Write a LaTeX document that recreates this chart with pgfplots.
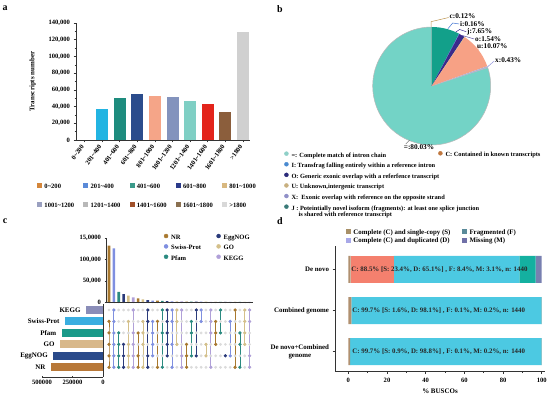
\documentclass[border=0pt]{standalone}
\usepackage{fontspec}
\setmainfont{Liberation Serif}
\usepackage{pgfplots}
\pgfplotsset{compat=1.18}
\newcommand\fs{\fontsize{6.6}{7.6}\selectfont\bfseries}
\newcommand\fsl{\fontsize{7}{8}\selectfont\bfseries}
\newcommand\fsb{\fontsize{6.4}{7.4}\selectfont\bfseries}
\newcommand\fsq{\fontsize{7.3}{8.3}\selectfont\bfseries}
\newcommand\fsd{\fontsize{6.9}{7.9}\selectfont\bfseries}
\newcommand\fsp{\fontsize{10}{11}\selectfont\bfseries}
% panel a
\definecolor{a0}{HTML}{E0904A}\definecolor{a1}{HTML}{22B4E2}\definecolor{a2}{HTML}{1E8C7E}
\definecolor{a3}{HTML}{2B4C8C}\definecolor{a4}{HTML}{F5A588}\definecolor{a5}{HTML}{8393BD}
\definecolor{a6}{HTML}{7FCFC4}\definecolor{a7}{HTML}{E3241B}\definecolor{a8}{HTML}{8B5E3C}
\definecolor{a9}{HTML}{D0D0D0}
\definecolor{l0}{HTML}{D4863A}\definecolor{l1}{HTML}{5A8AD8}\definecolor{l2}{HTML}{3A9A8A}
\definecolor{l3}{HTML}{2A3A8A}\definecolor{l4}{HTML}{D8B880}\definecolor{l5}{HTML}{9AA0C0}
\definecolor{l6}{HTML}{B8B8B8}\definecolor{l7}{HTML}{A0502A}\definecolor{l8}{HTML}{8A7050}
\definecolor{l9}{HTML}{D8D8D8}
% panel b
\definecolor{pEq}{HTML}{73D3C6}\definecolor{pJ}{HTML}{12A08A}\definecolor{pI}{HTML}{3A6FD0}
\definecolor{pO}{HTML}{3B2A8C}\definecolor{pC}{HTML}{B8C87A}\definecolor{pU}{HTML}{F7A185}
\definecolor{pX}{HTML}{B0B4D0}
\definecolor{bEq}{HTML}{8FD0C8}\definecolor{bC}{HTML}{C07840}\definecolor{bI}{HTML}{4A8AD0}
\definecolor{bO}{HTML}{2A2A7A}\definecolor{bU}{HTML}{C8B080}\definecolor{bX}{HTML}{9090C8}
\definecolor{bJ}{HTML}{3A7A78}
% panel c
\definecolor{cNR}{HTML}{A8782E}\definecolor{cEgg}{HTML}{2A3A7A}\definecolor{cSw}{HTML}{7F8FE0}
\definecolor{cGO}{HTML}{D4C08A}\definecolor{cPf}{HTML}{2A8A80}\definecolor{cKE}{HTML}{B0A0D8}
\definecolor{hKE}{HTML}{8A8DB8}\definecolor{hSw}{HTML}{3AAEE0}\definecolor{hPf}{HTML}{1A9A8A}
\definecolor{hGO}{HTML}{D8B88A}\definecolor{hEgg}{HTML}{2A4A8A}\definecolor{hNR}{HTML}{B87838}
% panel d
\definecolor{dT}{HTML}{B09070}\definecolor{dS}{HTML}{F4806E}\definecolor{dD}{HTML}{4CC9E2}
\definecolor{dF}{HTML}{14B0A0}\definecolor{dM}{HTML}{7880B0}
\definecolor{eS}{HTML}{A89068}\definecolor{eD}{HTML}{A8A8E8}\definecolor{eF}{HTML}{5A8A9A}
\definecolor{eM}{HTML}{7070A8}
\pgfplotsset{
  legmark/.style={legend image code/.code={\draw[mark repeat=1,##1] plot coordinates {(2bp,1.8bp)};}},
  base/.style={scale only axis,
    axis line style={line width=0.6bp, black!80},
    tick style={line width=0.5bp, black!80},
    tick label style={font=\fs}, label style={font=\fsl},
    /pgf/number format/fixed,
    /pgf/number format/assume math mode=true,
    legend style={font=\fs, draw=none, fill=none, inner sep=0pt, outer sep=0pt,
      nodes={inner sep=0.6bp, text height=4.7bp, text depth=1.4bp},
      /tikz/every odd column/.append style={column sep=2.5bp}},
    legend cell align=left,
    legmark},
}
\begin{document}
\begin{tikzpicture}
\path[use as bounding box] (0,0) rectangle (550bp,394bp);
% ---------- pie data ----------
\def\vJ{7.65}\def\vI{0.16}\def\vO{1.54}\def\vC{0.12}\def\vU{10.07}\def\vX{0.43}\def\vEq{80.03}
\pgfmathsetmacro\aJ{90-3.6*\vJ}
\pgfmathsetmacro\aI{\aJ-3.6*\vI}
\pgfmathsetmacro\aO{\aI-3.6*\vO}
\pgfmathsetmacro\aC{\aO-3.6*\vC}
\pgfmathsetmacro\aU{\aC-3.6*\vU}
\pgfmathsetmacro\aX{\aU-3.6*\vX}
\pgfmathsetmacro\aEq{\aX-3.6*\vEq}
% panel labels
\node[font=\fsp] at (5bp,385.7bp) {a};
\node[font=\fsp] at (280bp,384.7bp) {b};
\node[font=\fsp] at (5bp,172.3bp) {c};
\node[font=\fsp] at (280bp,173.3bp) {d};
% ================= panel a =================
\begin{axis}[base, at={(76bp,254bp)}, anchor=south west, width=174bp, height=117bp,
  axis lines*=left, xmin=-0.48, xmax=9.4, ymin=0, ymax=140000,
  ytick={0,20000,40000,60000,80000,100000,120000,140000}, minor y tick num=1,
  /pgf/number format/1000 sep={,}, scaled y ticks=false,
  xtick={0,1,2,3,4,5,6,7,8,9},
  xticklabels={0\textasciitilde200,201\textasciitilde400,401\textasciitilde600,601\textasciitilde800,801\textasciitilde1000,1001\textasciitilde1200,1201\textasciitilde1400,1401\textasciitilde1600,1601\textasciitilde1800,>1800},
  xticklabel style={rotate=55, anchor=east},
  tick align=outside, major tick length=2.5bp, minor tick length=1.5bp,
  ylabel={Transcripts number}, ylabel style={at={(axis description cs:-0.21,0.5)}},
  legend columns=5,
  legend style={at={(-0.222,-0.365)}, anchor=north west, row sep=11.7bp,
    /tikz/every even column/.append style={column sep=8.8bp}}]
\addplot[ybar, bar width=12bp, fill=a0, draw=none, forget plot] coordinates {(0,500)};
\addplot[ybar, bar width=12bp, fill=a1, draw=none, forget plot] coordinates {(1,37100)};
\addplot[ybar, bar width=12bp, fill=a2, draw=none, forget plot] coordinates {(2,50600)};
\addplot[ybar, bar width=12bp, fill=a3, draw=none, forget plot] coordinates {(3,54700)};
\addplot[ybar, bar width=12bp, fill=a4, draw=none, forget plot] coordinates {(4,53000)};
\addplot[ybar, bar width=12bp, fill=a5, draw=none, forget plot] coordinates {(5,51800)};
\addplot[ybar, bar width=12bp, fill=a6, draw=none, forget plot] coordinates {(6,46700)};
\addplot[ybar, bar width=12bp, fill=a7, draw=none, forget plot] coordinates {(7,42700)};
\addplot[ybar, bar width=12bp, fill=a8, draw=none, forget plot] coordinates {(8,33100)};
\addplot[ybar, bar width=12bp, fill=a9, draw=none, forget plot] coordinates {(9,128900)};
\addlegendimage{only marks, mark=square*, mark size=2bp, l0}\addlegendentry{0\textasciitilde200}
\addlegendimage{only marks, mark=square*, mark size=2bp, l1}\addlegendentry{201\textasciitilde400}
\addlegendimage{only marks, mark=square*, mark size=2bp, l2}\addlegendentry{401\textasciitilde600}
\addlegendimage{only marks, mark=square*, mark size=2bp, l3}\addlegendentry{601\textasciitilde800}
\addlegendimage{only marks, mark=square*, mark size=2bp, l4}\addlegendentry{801\textasciitilde1000}
\addlegendimage{only marks, mark=square*, mark size=2bp, l5}\addlegendentry{1001\textasciitilde1200}
\addlegendimage{only marks, mark=square*, mark size=2bp, l6}\addlegendentry{1201\textasciitilde1400}
\addlegendimage{only marks, mark=square*, mark size=2bp, l7}\addlegendentry{1401\textasciitilde1600}
\addlegendimage{only marks, mark=square*, mark size=2bp, l8}\addlegendentry{1601\textasciitilde1800}
\addlegendimage{only marks, mark=square*, mark size=2bp, l9}\addlegendentry{>1800}
\end{axis}
% ================= panel b =================
\begin{axis}[base, hide axis, at={(431.7bp,308bp)}, anchor=center, width=140bp, height=140bp,
  xmin=-70, xmax=70, ymin=-70, ymax=70, clip=false,
  legend style={font=\fsb, at={(-0.552,0.031)}, anchor=north west, row sep=3.2bp,
    nodes={inner sep=0.6bp, text height=4.6bp, text depth=1.4bp}}]
\fill[pEq, draw=gray!55, line width=0.5bp] (axis cs:0,0) -- ++(\aX:59bp) arc[start angle=\aX, end angle=\aEq, radius=59bp] -- cycle;
\fill[pJ] (axis cs:0,0) -- ++(90:59bp) arc[start angle=90, end angle=\aJ, radius=59bp] -- cycle;
\fill[pI] (axis cs:0,0) -- ++(\aJ:59bp) arc[start angle=\aJ, end angle=\aI, radius=59bp] -- cycle;
\fill[pO] (axis cs:0,0) -- ++(\aI:59bp) arc[start angle=\aI, end angle=\aO, radius=59bp] -- cycle;
\fill[pC] (axis cs:0,0) -- ++(\aO:59bp) arc[start angle=\aO, end angle=\aC, radius=59bp] -- cycle;
\fill[pU] (axis cs:0,0) -- ++(\aC:59bp) arc[start angle=\aC, end angle=\aU, radius=59bp] -- cycle;
\fill[pX] (axis cs:0,0) -- ++(\aU:59bp) arc[start angle=\aU, end angle=\aX, radius=59bp] -- cycle;
% leader lines
\draw[brown!70!pC, line width=0.5bp] (axis cs:-0.7,59.3) -- (axis cs:-0.7,64.3) -- (axis cs:17,68.5);
\draw[pI, line width=0.5bp] (axis cs:16,57) -- (axis cs:21,63) -- (axis cs:27.5,62);
\draw[pO, line width=0.5bp] (axis cs:24,54) -- (axis cs:28,56.5) -- (axis cs:34.5,54.3);
\draw[pO!80, line width=0.5bp] (axis cs:30.4,50.6) -- (axis cs:42.5,47);
\draw[pU, line width=0.5bp] (axis cs:46.6,36.2) -- (axis cs:45.5,40);
\draw[pX!80!blue, line width=0.5bp] (axis cs:55.8,19.1) -- (axis cs:62.5,25);
\draw[gray, line width=0.5bp] (axis cs:-26,-58) -- (axis cs:-22,-54);
\node[anchor=west, font=\fsq, inner sep=0.5bp] at (axis cs:17.3,70.3) {c:0.12\%};
\node[anchor=west, font=\fsq, inner sep=0.5bp] at (axis cs:27.8,62) {i:0.16\%};
\node[anchor=west, font=\fsq, inner sep=0.5bp] at (axis cs:34.8,54.3) {j:7.65\%};
\node[anchor=west, font=\fsq, inner sep=0.5bp] at (axis cs:42.8,47) {o:1.54\%};
\node[anchor=west, font=\fsq, inner sep=0.5bp] at (axis cs:44.8,40.3) {u:10.07\%};
\node[anchor=west, font=\fsq, inner sep=0.5bp] at (axis cs:62.8,26) {x:0.43\%};
\node[font=\fsq] at (axis cs:-12.7,-60.7) {=:80.03\%};
\addlegendimage{only marks, mark=*, mark size=2bp, bEq}\addlegendentry{=: Complete match of intron chain}
\addlegendimage{only marks, mark=*, mark size=2bp, bI}\addlegendentry{I: Transfrag falling entirely within a reference intron}
\addlegendimage{only marks, mark=*, mark size=2bp, bO}\addlegendentry{O: Generic exonic overlap with a referfence transcript}
\addlegendimage{only marks, mark=*, mark size=2bp, bU}\addlegendentry{U: Unknown,intergenic transcript}
\addlegendimage{only marks, mark=*, mark size=2bp, bX}\addlegendentry{X:\ \ Exonic overlap with reference on the opposite strand}
\addlegendimage{only marks, mark=*, mark size=2bp, bJ}\addlegendentry{\begin{tabular}[t]{@{}l@{}}J : Poteintially novel isoform (fragments): at least one splice junction\\[-1bp]\hspace{7bp}is shared with reference transcript\end{tabular}}
\end{axis}
\begin{axis}[base, hide axis, at={(438.4bp,239bp)}, anchor=center, width=2bp, height=2bp,
  xmin=0, xmax=1, ymin=0, ymax=1,
  legend style={font=\fsb, at={(0.5,0.5)}, anchor=west,
    nodes={inner sep=0.6bp, text height=4.6bp, text depth=1.4bp}}]
\addlegendimage{only marks, mark=*, mark size=2bp, bC}\addlegendentry{C: Contained in known transcripts}
\end{axis}
% ================= panel c : intersection bars =================
\begin{axis}[base, at={(106bp,92bp)}, anchor=south west, width=147bp, height=63.7bp,
  axis lines*=left, xmin=-0.62, xmax=29.7, ymin=0, ymax=150000, scaled y ticks=false,
  ytick={0,50000,100000,150000}, yticklabels={0,{50,000},{100,000},{15,0000}},
  xtick={0,1,2,3,4,5,6,7,8,9,10,11,12,13,14,15,16,17,18,19,20,21,22,23,24,25,26,27,28,29},
  xticklabels={}, tick align=outside, major tick length=1.5bp,
  legend columns=2,
  legend style={at={(0.395,1.067)}, anchor=north west, row sep=2.9bp,
    /tikz/every even column/.append style={column sep=15bp}}]
\addplot[ybar, bar width=2.6bp, fill=cNR, draw=none, forget plot] coordinates {(0,132500) (6,8600) (10,3000) (16,1000) (22,450) (26,250)};
\addplot[ybar, bar width=2.6bp, fill=cSw, draw=none, forget plot] coordinates {(1,126400) (9,3500) (13,1700) (19,700) (25,300)};
\addplot[ybar, bar width=2.6bp, fill=cPf, draw=none, forget plot] coordinates {(2,24000) (11,2500) (17,900) (23,400) (27,200)};
\addplot[ybar, bar width=2.6bp, fill=cEgg, draw=none, forget plot] coordinates {(3,18800) (8,4700) (12,2000) (18,800) (24,350)};
\addplot[ybar, bar width=2.6bp, fill=cGO, draw=none, forget plot] coordinates {(4,15000) (7,6000) (14,1400) (20,600) (28,150)};
\addplot[ybar, bar width=2.6bp, fill=cKE, draw=none, forget plot] coordinates {(5,11000) (15,1200) (21,500) (29,100)};
\addlegendimage{only marks, mark=*, mark size=2bp, cNR}\addlegendentry{NR}
\addlegendimage{only marks, mark=*, mark size=2bp, cEgg}\addlegendentry{EggNOG}
\addlegendimage{only marks, mark=*, mark size=2bp, cSw}\addlegendentry{Swiss-Prot}
\addlegendimage{only marks, mark=*, mark size=2bp, cGO}\addlegendentry{GO}
\addlegendimage{only marks, mark=*, mark size=2bp, cPf}\addlegendentry{Pfam}
\addlegendimage{only marks, mark=*, mark size=2bp, cKE}\addlegendentry{KEGG}
\end{axis}
% ================= panel c : matrix =================
\begin{axis}[base, hide axis, at={(106bp,22bp)}, anchor=south west, width=147bp, height=68bp,
  xmin=-0.62, xmax=29.7, ymin=0.59, ymax=6.524, clip=false]
\addplot[only marks, mark=*, mark size=1.2bp, color=gray!28] coordinates {
(0,1)(1,1)(2,1)(3,1)(4,1)(5,1)(6,1)(7,1)(8,1)(9,1)(10,1)(11,1)(12,1)(13,1)(14,1)(15,1)(16,1)(17,1)(18,1)(19,1)(20,1)(21,1)(22,1)(23,1)(24,1)(25,1)(26,1)(27,1)(28,1)(29,1)
(0,2)(1,2)(2,2)(3,2)(4,2)(5,2)(6,2)(7,2)(8,2)(9,2)(10,2)(11,2)(12,2)(13,2)(14,2)(15,2)(16,2)(17,2)(18,2)(19,2)(20,2)(21,2)(22,2)(23,2)(24,2)(25,2)(26,2)(27,2)(28,2)(29,2)
(0,3)(1,3)(2,3)(3,3)(4,3)(5,3)(6,3)(7,3)(8,3)(9,3)(10,3)(11,3)(12,3)(13,3)(14,3)(15,3)(16,3)(17,3)(18,3)(19,3)(20,3)(21,3)(22,3)(23,3)(24,3)(25,3)(26,3)(27,3)(28,3)(29,3)
(0,4)(1,4)(2,4)(3,4)(4,4)(5,4)(6,4)(7,4)(8,4)(9,4)(10,4)(11,4)(12,4)(13,4)(14,4)(15,4)(16,4)(17,4)(18,4)(19,4)(20,4)(21,4)(22,4)(23,4)(24,4)(25,4)(26,4)(27,4)(28,4)(29,4)
(0,5)(1,5)(2,5)(3,5)(4,5)(5,5)(6,5)(7,5)(8,5)(9,5)(10,5)(11,5)(12,5)(13,5)(14,5)(15,5)(16,5)(17,5)(18,5)(19,5)(20,5)(21,5)(22,5)(23,5)(24,5)(25,5)(26,5)(27,5)(28,5)(29,5)
(0,6)(1,6)(2,6)(3,6)(4,6)(5,6)(6,6)(7,6)(8,6)(9,6)(10,6)(11,6)(12,6)(13,6)(14,6)(15,6)(16,6)(17,6)(18,6)(19,6)(20,6)(21,6)(22,6)(23,6)(24,6)(25,6)(26,6)(27,6)(28,6)(29,6)};
\addplot[cNR, line width=0.8bp, mark=*, mark size=1.2bp, unbounded coords=jump] coordinates {
(0,1)(0,2)(0,3)(0,4)(0,5)(0,nan)(6,1)(6,2)(6,4)(6,nan)(10,1)(10,5)(10,nan)(16,1)(16,2)(16,3)(16,nan)(22,3)(22,4)(22,5)(22,nan)(26,1)(26,6)};
\addplot[cSw, line width=0.8bp, mark=*, mark size=1.2bp, unbounded coords=jump] coordinates {
(1,1)(1,2)(1,3)(1,4)(1,5)(1,6)(1,nan)(9,2)(9,3)(9,4)(9,5)(9,nan)(13,1)(13,3)(13,5)(13,6)(13,nan)(19,5)(19,6)(19,nan)(25,2)(25,5)};
\addplot[cPf, line width=0.8bp, mark=*, mark size=1.2bp, unbounded coords=jump] coordinates {
(2,1)(2,2)(2,3)(2,4)(2,nan)(11,1)(11,4)(11,6)(11,nan)(17,2)(17,4)(17,5)(17,nan)(23,4)(23,6)(23,nan)(27,1)(27,3)(27,4)};
\addplot[cEgg, line width=0.8bp, mark=*, mark size=1.2bp, unbounded coords=jump] coordinates {
(3,1)(3,2)(3,3)(3,nan)(8,1)(8,2)(8,5)(8,6)(8,nan)(12,2)(12,3)(12,4)(12,5)(12,6)(12,nan)(18,2)(18,6)(18,nan)(24,2)};
\addplot[cGO, line width=0.8bp, mark=*, mark size=1.2bp, unbounded coords=jump] coordinates {
(4,1)(4,2)(4,3)(4,5)(4,nan)(7,1)(7,3)(7,4)(7,5)(7,nan)(14,3)(14,5)(14,6)(14,nan)(20,2)(20,3)(20,nan)(28,3)(28,4)(28,5)(28,6)};
\addplot[cKE, line width=0.8bp, mark=*, mark size=1.2bp, unbounded coords=jump] coordinates {
(5,1)(5,2)(5,3)(5,4)(5,6)(5,nan)(15,1)(15,2)(15,6)(15,nan)(21,1)(21,4)(21,5)(21,6)(21,nan)(29,1)(29,2)(29,5)(29,6)};
\end{axis}
% ================= panel c : set sizes =================
\begin{axis}[base, at={(42bp,17bp)}, anchor=south west, width=61bp, height=73bp,
  x dir=reverse, xmin=0, xmax=500000, ymin=0.154, ymax=6.524,
  axis x line*=bottom, axis y line*=right, ytick=\empty,
  xtick={0,250000,500000}, xticklabels={0,250000,500000}, scaled x ticks=false,
  tick align=inside, major tick length=1.5bp, clip=false]
\addplot[xbar, bar width=8bp, fill=hKE, draw=none] coordinates {(139300,6)};
\addplot[xbar, bar width=8bp, fill=hSw, draw=none] coordinates {(311500,5)};
\addplot[xbar, bar width=8bp, fill=hPf, draw=none] coordinates {(338500,4)};
\addplot[xbar, bar width=8bp, fill=hGO, draw=none] coordinates {(352500,3)};
\addplot[xbar, bar width=8bp, fill=hEgg, draw=none] coordinates {(407400,2)};
\addplot[xbar, bar width=8bp, fill=hNR, draw=none] coordinates {(426200,1)};
\node[anchor=east, font=\fsl, xshift=-2bp] at (axis cs:139300,6) {KEGG};
\node[anchor=east, font=\fsl, xshift=-2bp] at (axis cs:311500,5) {Swiss-Prot};
\node[anchor=east, font=\fsl, xshift=-2bp] at (axis cs:338500,4) {Pfam};
\node[anchor=east, font=\fsl, xshift=-2bp] at (axis cs:352500,3) {GO};
\node[anchor=east, font=\fsl, xshift=-2bp] at (axis cs:407400,2) {EggNOG};
\node[anchor=east, font=\fsl, xshift=-2bp] at (axis cs:426200,1) {NR};
\end{axis}
% ================= panel d =================
\begin{axis}[base, at={(335bp,22.3bp)}, anchor=south west, width=210bp, height=125.7bp,
  axis lines*=left, xmin=-6.9, xmax=101.7, ymin=0.515, ymax=3.566,
  xbar stacked, bar width=27bp,
  xtick={0,20,40,60,80,100}, minor x tick num=1,
  ytick={1,2,3}, yticklabels={{De novo+Combined\\genome},{Combined genome},{De novo}},
  yticklabel style={align=center, font=\fsd},
  tick align=outside, major tick length=2.5bp, minor tick length=1.5bp,
  xlabel={\% BUSCOs},
  legend columns=2,
  legend style={font=\fsd, at={(0.054,1.138)}, anchor=north west, row sep=1.1bp,
    nodes={inner sep=0.6bp, text height=4.9bp, text depth=1.5bp},
    /tikz/every even column/.append style={column sep=11.4bp}}]
\addlegendimage{only marks, mark=square*, mark size=2bp, eS}
\addlegendimage{only marks, mark=square*, mark size=2bp, eF}
\addlegendimage{only marks, mark=square*, mark size=2bp, eD}
\addlegendimage{only marks, mark=square*, mark size=2bp, eM}
\addplot[fill=dT, draw=none] coordinates {(1.2,3) (1.6,2) (0.9,1)};
\addplot[fill=dS, draw=none] coordinates {(22.2,3) (0,2) (0,1)};
\addplot[fill=dD, draw=none] coordinates {(65.1,3) (98.1,2) (98.8,1)};
\addplot[fill=dF, draw=none] coordinates {(8.4,3) (0.1,2) (0.1,1)};
\addplot[fill=dM, draw=none] coordinates {(3.1,3) (0.2,2) (0.2,1)};
\legend{Complete (C) and single-copy (S),Fragmented (F),Complete (C) and duplicated (D),Missing (M)}
\end{axis}
% overlay for the bar texts of panel d
\begin{axis}[scale only axis, hide axis, at={(335bp,22.3bp)}, anchor=south west, width=210bp, height=125.7bp,
  xmin=-6.9, xmax=101.7, ymin=0.515, ymax=3.566, clip=false]
\node[anchor=west, font=\fsd, black!85, inner sep=0pt] at (axis cs:1.5,3) {C: 88.5\% [S: 23.4\%, D: 65.1\%] , F: 8.4\%, M: 3.1\%, n: 1440};
\node[anchor=west, font=\fsd, black!85, inner sep=0pt] at (axis cs:2,2) {C: 99.7\% [S: 1.6\%, D: 98.1\%] , F: 0.1\%, M: 0.2\%, n: 1440};
\node[anchor=west, font=\fsd, black!85, inner sep=0pt] at (axis cs:2,1) {C: 99.7\% [S: 0.9\%, D: 98.8\%] , F: 0.1\%, M: 0.2\%, n: 1440};
\end{axis}
\end{tikzpicture}
\end{document}
